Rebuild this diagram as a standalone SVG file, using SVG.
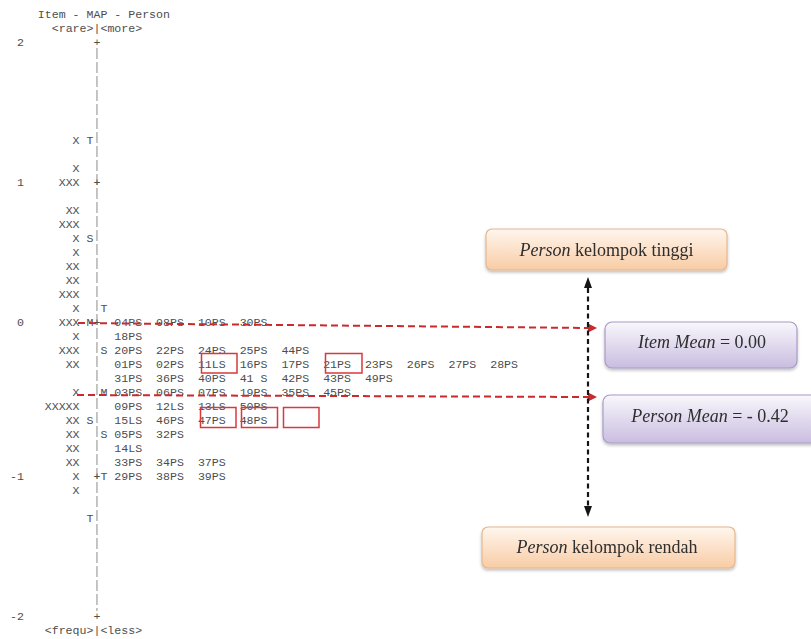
<svg xmlns="http://www.w3.org/2000/svg" width="811" height="639" viewBox="0 0 811 639">
<style>
.m{font-family:"Liberation Mono","DejaVu Sans Mono",monospace;font-size:11.6px;fill:#4d4d4d}
.b{font-family:"Liberation Serif","Times New Roman",serif;font-size:18px;fill:#2e2e2e}
.i{font-style:italic}
.ax{stroke:#8c8c8c;stroke-width:1;stroke-dasharray:11 3}
.rd{fill:none;stroke:#c92a2e;stroke-width:2;stroke-dasharray:7 4}
.bd{fill:none;stroke:#151515;stroke-width:2.2;stroke-dasharray:5 3.5}
.hl{fill:none;stroke:#d9383c;stroke-width:1.5}
.ob{fill:url(#og);stroke:#e6b68f;stroke-width:1.2}
.pb{fill:url(#pg);stroke:#a89bc6;stroke-width:1.2}
</style>
<defs>
<linearGradient id="og" x1="0" y1="0" x2="0" y2="1">
<stop offset="0" stop-color="#fff6ee"/>
<stop offset="1" stop-color="#f8cca5"/>
</linearGradient>
<linearGradient id="pg" x1="0" y1="0" x2="0" y2="1">
<stop offset="0" stop-color="#f9f7fc"/>
<stop offset="1" stop-color="#c9bde0"/>
</linearGradient>
<filter id="sh" x="-10%" y="-20%" width="120%" height="150%">
<feDropShadow dx="0" dy="2" stdDeviation="1.5" flood-color="#000" flood-opacity="0.25"/>
</filter>
</defs>
<rect width="811" height="639" fill="#ffffff"/>
<g id="map" class="m">
<text x="37.8" y="18">Item - MAP - Person</text>
<text x="51.72" y="32">&lt;rare&gt;|&lt;more&gt;</text>
<text x="44.76" y="634">&lt;frequ&gt;|&lt;less&gt;</text>
<g id="axis">
<line class="ax" x1="96.96" y1="48" x2="96.96" y2="611"/>
<text><tspan x="93.48" y="46">+</tspan><tspan x="93.48" y="186">+</tspan><tspan x="93.48" y="326">+</tspan><tspan x="93.48" y="480">+</tspan><tspan x="93.48" y="620">+</tspan></text>
<text><tspan x="16.92" y="46">2</tspan><tspan x="16.92" y="186">1</tspan><tspan x="16.92" y="326">0</tspan><tspan x="9.96" y="480">-1</tspan><tspan x="9.96" y="620">-2</tspan></text>
</g>
<g id="items">
<text><tspan x="72.6" y="144">X</tspan><tspan x="86.52" y="144">T</tspan>
<tspan x="72.6" y="172">X</tspan>
<tspan x="58.68" y="186">XXX</tspan>
<tspan x="65.64" y="214">XX</tspan>
<tspan x="58.68" y="228">XXX</tspan>
<tspan x="72.6" y="242">X</tspan><tspan x="86.52" y="242">S</tspan>
<tspan x="72.6" y="256">X</tspan>
<tspan x="65.64" y="270">XX</tspan>
<tspan x="65.64" y="284">XX</tspan>
<tspan x="58.68" y="298">XXX</tspan>
<tspan x="72.6" y="312">X</tspan>
<tspan x="58.68" y="326">XXX</tspan><tspan x="86.52" y="326">M</tspan>
<tspan x="72.6" y="340">X</tspan>
<tspan x="58.68" y="354">XXX</tspan>
<tspan x="65.64" y="368">XX</tspan>
<tspan x="72.6" y="396">X</tspan>
<tspan x="44.76" y="410">XXXXX</tspan>
<tspan x="65.64" y="424">XX</tspan><tspan x="86.52" y="424">S</tspan>
<tspan x="65.64" y="438">XX</tspan>
<tspan x="65.64" y="452">XX</tspan>
<tspan x="65.64" y="466">XX</tspan>
<tspan x="72.6" y="480">X</tspan>
<tspan x="72.6" y="494">X</tspan>
<tspan x="86.52" y="522">T</tspan></text>
</g>
<g id="persons">
<text><tspan x="100.44" y="312">T</tspan><tspan x="100.44" y="354">S</tspan><tspan x="100.44" y="396">M</tspan><tspan x="100.44" y="438">S</tspan><tspan x="100.44" y="480">T</tspan></text>
<text y="326"><tspan x="114.36">04PS</tspan><tspan x="156.12">08PS</tspan><tspan x="197.88">10PS</tspan><tspan x="239.64">30PS</tspan></text>
<text y="340"><tspan x="114.36">18PS</tspan></text>
<text y="354"><tspan x="114.36">20PS</tspan><tspan x="156.12">22PS</tspan><tspan x="197.88">24PS</tspan><tspan x="239.64">25PS</tspan><tspan x="281.4">44PS</tspan></text>
<text y="368"><tspan x="114.36">01PS</tspan><tspan x="156.12">02PS</tspan><tspan x="197.88">11LS</tspan><tspan x="239.64">16PS</tspan><tspan x="281.4">17PS</tspan><tspan x="323.16">21PS</tspan><tspan x="364.92">23PS</tspan><tspan x="406.68">26PS</tspan><tspan x="448.44">27PS</tspan><tspan x="490.2">28PS</tspan></text>
<text y="382"><tspan x="114.36">31PS</tspan><tspan x="156.12">36PS</tspan><tspan x="197.88">40PS</tspan><tspan x="239.64">41 S</tspan><tspan x="281.4">42PS</tspan><tspan x="323.16">43PS</tspan><tspan x="364.92">49PS</tspan></text>
<text y="396"><tspan x="114.36">03PS</tspan><tspan x="156.12">06PS</tspan><tspan x="197.88">07PS</tspan><tspan x="239.64">19PS</tspan><tspan x="281.4">35PS</tspan><tspan x="323.16">45PS</tspan></text>
<text y="410"><tspan x="114.36">09PS</tspan><tspan x="156.12">12LS</tspan><tspan x="197.88">13LS</tspan><tspan x="239.64">50PS</tspan></text>
<text y="424"><tspan x="114.36">15LS</tspan><tspan x="156.12">46PS</tspan><tspan x="197.88">47PS</tspan><tspan x="239.64">48PS</tspan></text>
<text y="438"><tspan x="114.36">05PS</tspan><tspan x="156.12">32PS</tspan></text>
<text y="452"><tspan x="114.36">14LS</tspan></text>
<text y="466"><tspan x="114.36">33PS</tspan><tspan x="156.12">34PS</tspan><tspan x="197.88">37PS</tspan></text>
<text y="480"><tspan x="114.36">29PS</tspan><tspan x="156.12">38PS</tspan><tspan x="197.88">39PS</tspan></text>
</g>
</g>
<g id="highlights">
<rect class="hl" x="201.5" y="353.5" width="35.5" height="19.5"/>
<rect class="hl" x="325.5" y="353.5" width="36.5" height="19.5"/>
<rect class="hl" x="200.5" y="407.5" width="35.5" height="20"/>
<rect class="hl" x="241.5" y="407.5" width="36" height="20"/>
<rect class="hl" x="283.5" y="407.5" width="35.5" height="20"/>
</g>
<g id="connectors">
<line class="rd" x1="78" y1="323" x2="589" y2="328"/>
<polygon points="597,328 588,323.5 588,332.5" fill="#c92a2e"/>
<line class="rd" x1="77" y1="395" x2="589" y2="397"/>
<polygon points="597,397 588,392.5 588,401.5" fill="#c92a2e"/>
<line class="bd" x1="588" y1="288" x2="588" y2="507"/>
<polygon points="588,277 584,288 592,288" fill="#151515"/>
<polygon points="588,517 584,506 592,506" fill="#151515"/>
</g>
<g id="node-tinggi" filter="url(#sh)">
<rect class="ob" x="486" y="229" width="241" height="41" rx="6"/>
<text class="b" x="606.5" y="256" text-anchor="middle"><tspan class="i">Person</tspan> kelompok tinggi</text>
</g>
<g id="node-item-mean" filter="url(#sh)">
<rect class="pb" x="605" y="322" width="192" height="46" rx="7"/>
<text class="b" x="702" y="348" text-anchor="middle"><tspan class="i">Item Mean</tspan> = 0.00</text>
</g>
<g id="node-person-mean" filter="url(#sh)">
<rect class="pb" x="603" y="395" width="216" height="48" rx="7"/>
<text class="b" x="710" y="422" text-anchor="middle"><tspan class="i">Person Mean</tspan> = - 0.42</text>
</g>
<g id="node-rendah" filter="url(#sh)">
<rect class="ob" x="482" y="527" width="253" height="41" rx="6"/>
<text class="b" x="607" y="553" text-anchor="middle"><tspan class="i">Person</tspan> kelompok rendah</text>
</g>
</svg>
